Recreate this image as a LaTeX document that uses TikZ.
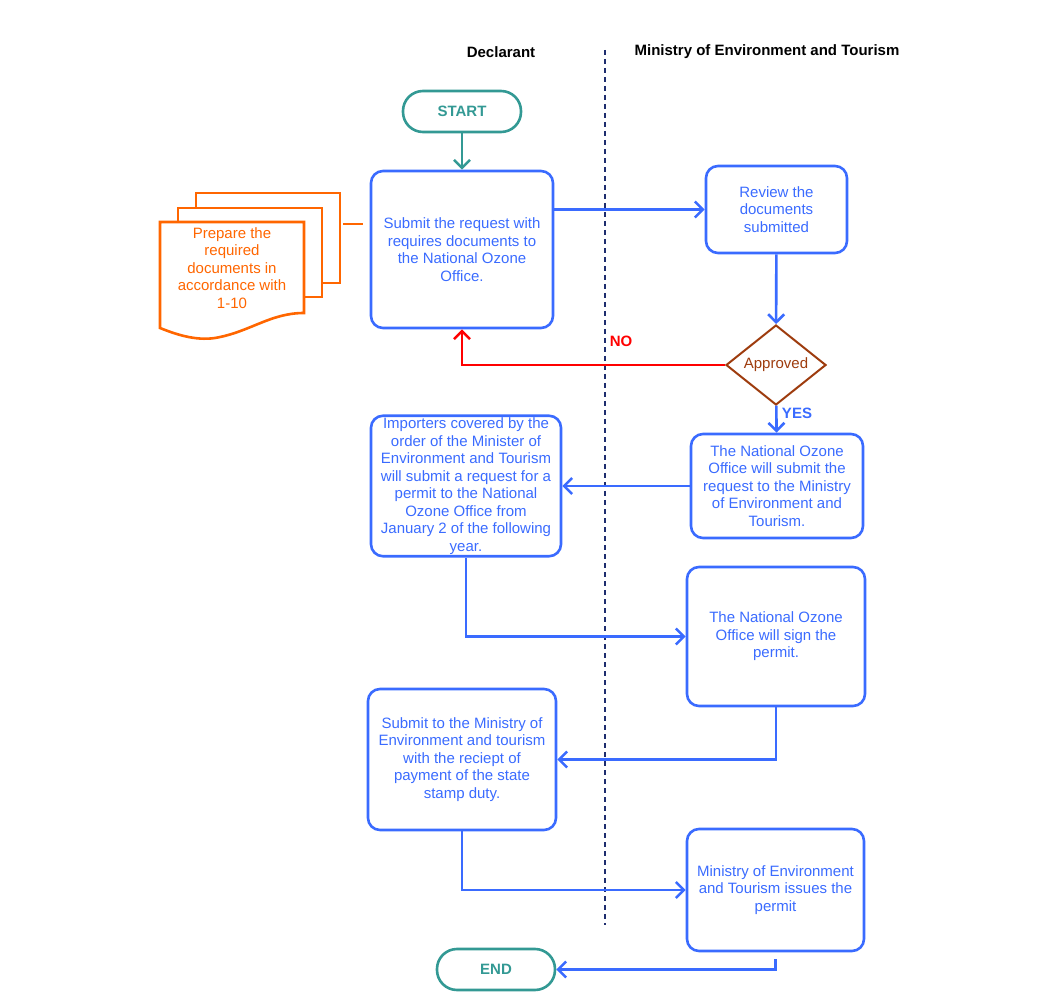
\documentclass[tikz,border=0pt]{standalone}
\usepackage{fontspec}
\setmainfont{Liberation Sans}
\usepackage{tikz}
\usetikzlibrary{arrows.meta,shapes.geometric}
\definecolor{cblue}{RGB}{58,107,255}
\definecolor{cteal}{RGB}{51,153,148}
\definecolor{corange}{RGB}{255,102,0}
\definecolor{cbrown}{RGB}{158,60,14}
\definecolor{cnavy}{RGB}{30,45,110}

\begin{document}
\begin{tikzpicture}[x=1pt,y=-1pt,>={Straight Barb[length=8pt,width=16pt]},
  line width=2.6pt,font=\fontsize{15}{17.5}\selectfont,
  main node/.style={draw=cblue,text=cblue,rounded corners=12pt,align=center,inner sep=2pt},
  term node/.style={draw=cteal,text=cteal,rounded corners=20pt,minimum width=118pt,
    minimum height=41pt,font=\fontsize{15}{17.5}\selectfont\bfseries},
  head node/.style={font=\fontsize{15}{17.5}\selectfont\bfseries},
  flow/.style={draw=cblue,->},
  docs/.style={draw=corange,fill=white}]
  \useasboundingbox (0,0) rectangle (1053,1008);

  % lanes
  \node[head node] (lane1) at (501,52) {Declarant};
  \node[head node] (lane2) at (767,52) {Ministry of Environment and Tourism};
  \coordinate (sep1) at (605,50);
  \coordinate (sep2) at (605,925);
  \draw[cnavy,line width=2pt,dash pattern=on 5pt off 4pt] (sep1) -- (sep2);

  % nodes
  \node[term node] (start) at (462,111.5) {START};
  \node[main node,minimum width=182pt,minimum height=157pt] (submit) at (462,249.5)
    {Submit the request with\\requires documents to\\the National Ozone\\Office.};
  \node[main node,minimum width=141pt,minimum height=87pt] (review) at (776.5,209.5)
    {Review the\\documents\\submitted};
  \node[diamond,draw=cbrown,text=cbrown,line width=2pt,inner sep=0pt,
    minimum width=100pt,minimum height=80pt] (ok) at (776,365) {Approved};
  \node[main node,minimum width=172pt,minimum height=104pt] (natsub) at (777,486)
    {The National Ozone\\Office will submit the\\request to the Ministry\\of Environment and\\Tourism.};
  \node[main node,minimum width=190pt,minimum height=140pt] (import) at (466,486)
    {Importers covered by the\\order of the Minister of\\Environment and Tourism\\will submit a request for a\\permit to the National\\Ozone Office from\\January 2 of the following\\year.};
  \node[main node,minimum width=178pt,minimum height=139pt] (sign) at (776,636.5)
    {The National Ozone\\Office will sign the\\permit.};
  \node[main node,minimum width=188pt,minimum height=141pt] (stamp) at (462,759.5)
    {Submit to the Ministry of\\Environment and tourism\\with the reciept of\\payment of the state\\stamp duty.};
  \node[main node,minimum width=177pt,minimum height=122pt] (issue) at (775.5,890)
    {Ministry of Environment\\and Tourism issues the\\permit};
  \node[term node] (end) at (496,969.5) {END};

  % documents
  \draw[docs] (196,193) rectangle (340,283);
  \draw[docs] (178,208) rectangle (322,297);
  \draw[docs] (160,222) -- (304,222) -- (304,313)
    .. controls (270,313) and (250,332) .. (215,338)
    .. controls (195,341) and (175,334) .. (160,328) -- cycle;
  \node[text=corange,align=center] (prep) at (232,268)
    {Prepare the\\required\\documents in\\accordance with\\1-10};
  \coordinate (docs-r) at (343,224);
  \coordinate (docs-l) at (363,224);
  \draw[corange] (docs-r) -- (docs-l);

  % connectors
  \draw[cteal,->] (start) -- (submit);
  \draw[flow] (submit.east |- review.west) -- (review.west);
  \draw[flow] (review) -- (ok);
  \draw[red,->] (ok.west) -| (submit.south);
  \draw[flow] (ok) -- (natsub);
  \draw[flow] (natsub.west) -- (import.east |- natsub.west);
  \draw[flow] (import.south) |- (sign.west);
  \draw[flow] (sign.south) |- (stamp.east);
  \draw[flow] (stamp.south) |- (issue.west);
  \draw[flow,shorten <=7pt] (issue.south) |- (end.east);

  % labels
  \node[text=red,font=\fontsize{15}{17.5}\selectfont\bfseries] (nolbl) at (621,341) {NO};
  \node[text=cblue,font=\fontsize{15}{17.5}\selectfont\bfseries] (yeslbl) at (797,413) {YES};
\end{tikzpicture}
\end{document}
